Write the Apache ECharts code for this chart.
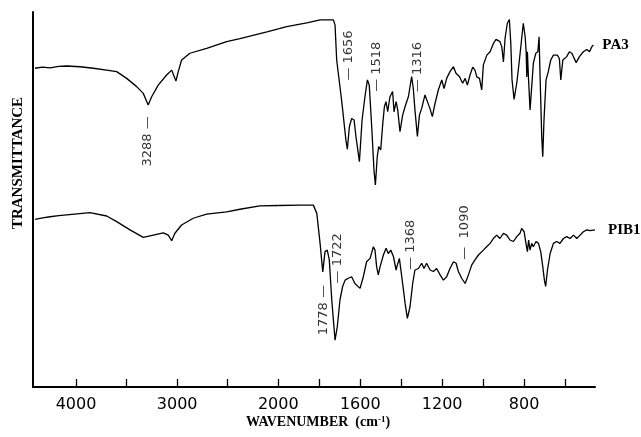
<!DOCTYPE html>
<html><head><meta charset="utf-8">
<script src="https://cdn.jsdelivr.net/npm/echarts@6/dist/echarts.min.js"></script>
<style>html,body{margin:0;padding:0;background:#fff}#c{width:641px;height:437px}</style>
</head><body><div id="c"></div>
<script>
// [wavenumber (cm-1), transmittance (arbitrary %)]
const pa3Points = [
  [4405,85.0],[4330,85.3],[4257,85.1],[4170,85.5],[4092,85.6],[3960,85.4],[3829,85.0],[3697,84.5],[3598,84.1],[3499,82.3],[3400,80.1],[3335,78.3],[3286,75.2],[3252,77.4],[3187,80.5],[3104,83.2],[3054,84.5],[3039,84.1],[3012,81.6],[2989,84.1],[2956,87.2],[2874,89.0],[2708,90.3],[2511,92.1],[2379,92.9],[2112,94.7],[2000,95.5],
  [1959,96.1],[1861,97.1],[1796,97.9],[1731,97.9],[1723,96.5],[1715,87.2],[1691,76.5],[1670,65.9],[1663,63.4],[1653,69.4],[1642,71.6],[1630,71.2],[1621,66.8],[1604,60.1],[1591,71.2],[1577,77.4],[1565,81.9],[1556,80.5],[1544,69.4],[1533,57.9],[1526,53.9],[1517,61.4],[1510,64.1],[1500,63.2],[1490,70.3],[1482,74.8],[1474,76.1],[1466,73.4],[1455,77.4],[1442,78.8],[1435,73.4],[1425,76.1],[1417,73.9],[1406,68.1],[1393,72.5],[1381,74.8],[1365,77.4],[1349,82.8],[1341,79.6],[1333,73.9],[1321,66.8],[1311,72.5],[1300,74.3],[1284,77.9],[1272,76.1],[1260,74.3],[1248,72.1],[1235,75.6],[1219,79.2],[1202,81.9],[1191,79.6],[1178,82.3],[1162,84.1],[1145,85.4],[1132,83.6],[1116,82.8],[1100,81.0],[1088,82.3],[1077,80.5],[1064,83.2],[1051,85.3],[1040,84.5],[1031,82.7],[1018,82.3],[1007,79.2],[999,85.9],[982,88.5],[966,89.4],[950,91.6],[937,92.7],[918,92.1],[909,90.7],[901,86.7],[893,93.0],[882,97.0],[872,98.0],[865,91.6],[859,81.9],[849,76.7],[836,81.0],[823,87.2],[811,93.4],[804,97.0],[795,93.4],[790,89.4],[787,82.7],[784,89.4],[779,82.7],[771,73.9],[763,73.9],[755,86.3],[743,89.0],[733,89.4],[727,93.4],[722,82.7],[714,66.7],[709,61.4],[703,71.2],[693,81.9],[682,84.1],[670,87.2],[657,88.5],[638,88.5],[628,87.6],[621,81.9],[611,87.2],[592,88.1],[579,89.4],[567,89.0],[546,86.5],[530,88.1],[511,89.4],[494,90.0],[481,89.4],[470,90.7],[462,91.2]
];
const pib1Points = [
  [4405,44.7],[4330,45.1],[4257,45.4],[4170,45.7],[4092,45.9],[3862,46.5],[3697,45.6],[3598,44.1],[3466,41.9],[3335,39.9],[3236,40.5],[3137,41.1],[3088,40.5],[3054,39.0],[3022,41.0],[2956,43.2],[2841,45.0],[2709,46.1],[2511,46.7],[2379,47.4],[2182,48.3],[2000,48.4],
  [1992,48.5],[1894,48.5],[1829,48.5],[1812,46.3],[1796,38.3],[1783,30.7],[1772,36.1],[1761,36.5],[1751,33.9],[1739,23.2],[1723,12.5],[1712,16.1],[1699,23.2],[1686,26.8],[1674,28.5],[1658,29.0],[1642,29.4],[1626,27.6],[1601,26.3],[1585,29.4],[1569,33.4],[1552,34.3],[1536,37.4],[1528,36.5],[1520,32.1],[1512,29.9],[1503,32.1],[1487,35.2],[1474,37.0],[1463,35.6],[1451,36.5],[1438,34.8],[1425,31.2],[1419,32.5],[1409,34.3],[1402,33.9],[1393,27.6],[1381,22.3],[1370,18.3],[1357,21.4],[1344,27.6],[1333,31.2],[1316,31.6],[1300,33.0],[1289,31.6],[1276,33.0],[1259,31.2],[1243,30.8],[1227,31.6],[1210,29.9],[1194,28.5],[1178,29.4],[1162,31.6],[1145,33.4],[1132,33.0],[1121,30.8],[1105,29.0],[1088,27.6],[1072,29.9],[1056,32.5],[1040,33.9],[1023,35.2],[999,36.5],[983,37.4],[966,38.3],[950,39.6],[934,40.5],[918,39.6],[901,41.0],[885,40.5],[869,39.2],[852,38.8],[836,40.1],[820,41.0],[812,42.3],[800,41.4],[791,38.3],[784,36.1],[778,39.2],[771,36.5],[763,38.3],[755,37.4],[742,38.8],[730,38.3],[719,36.1],[709,32.1],[701,28.5],[695,26.8],[686,31.2],[673,35.6],[657,38.3],[641,38.8],[625,38.3],[608,39.6],[592,40.1],[576,39.6],[559,40.5],[543,39.6],[527,40.5],[511,41.4],[494,41.9],[478,41.7],[454,41.9]
];

// Peak annotations
const annWave  = [3288, 1656, 1520, 1318, 1777, 1712, 1356, 1088];
const annLevel = [65.5, 88.4, 85.4, 85.3, 20.5, 34.3, 37.9, 41.2];
const annText  = ['3288 \u2014', '\u2014 1656', '\u2014 1518', '\u2014 1316', '1778 \u2014', '\u2014 1722', '\u2014 1368', '\u2014  1090'];

// Axis ticks (scale changes at 2000 cm-1)
const breakWave = 2000;
const leftRange = [2000, 4425];
const rightRange = [454, 2000];
const leftTicks = [4000, 3500, 3000, 2500, 2000];
const leftLabels = [4000, 3000, 2000];
const rightTicks = [1800, 1600, 1400, 1200, 1000, 800, 600];
const rightLabels = [1600, 1200, 800];

const ann = annWave.map((w, i) => [w, annLevel[i], annText[i]]);

const black = '#000';
const lineStyle = { color: black, width: 1.3 };
function xAx(grid, range, ticks, labels) {
  return {
    type: 'value', gridIndex: grid, min: range[0], max: range[1], inverse: true,
    axisLine: { show: true, onZero: false, lineStyle: { color: black, width: 2 } },
    axisTick: { show: true, inside: true, length: 8, customValues: ticks, lineStyle: { color: black, width: 1.3 } },
    axisLabel: { show: true, customValues: labels, formatter: v => String(v), margin: 10, color: black, fontFamily: 'DejaVu Sans', fontSize: 16 },
    splitLine: { show: false }
  };
}
const endLbl = (txt, d) => ({ show: true, formatter: txt, align: 'left', distance: -d, color: black, fontFamily: 'Liberation Serif', fontWeight: 'bold', fontSize: 15 });
const annLabel = {
  show: true, formatter: p => p.value[2], rotate: 90, position: 'inside', align: 'center', verticalAlign: 'middle',
  color: black, fontFamily: 'DejaVu Sans', fontSize: 13
};

const chart = echarts.init(document.getElementById('c'), null, { renderer: 'canvas' });
chart.setOption({
  animation: false,
  backgroundColor: '#fff',
  grid: [
    { left: 33, top: 12, width: 245.3, height: 375 },
    { left: 278.3, top: 12, width: 316.7, height: 375 }
  ],
  xAxis: [
    xAx(0, leftRange, leftTicks, leftLabels),
    xAx(1, rightRange, rightTicks, rightLabels)
  ],
  yAxis: [
    { type: 'value', gridIndex: 0, min: 0, max: 100,
      axisLine: { show: true, onZero: false, lineStyle: { color: black, width: 2 } },
      axisTick: { show: false }, axisLabel: { show: false }, splitLine: { show: false } },
    { type: 'value', gridIndex: 1, min: 0, max: 100, show: false, splitLine: { show: false } }
  ],
  graphic: [
    { type: 'text', x: 18, y: 163, rotation: Math.PI / 2,
      style: { text: 'TRANSMITTANCE', fontFamily: 'Liberation Serif', fontWeight: 'bold', fontSize: 15, fill: black, align: 'center', verticalAlign: 'middle' } },
    { type: 'text', x: 318, y: 422,
      style: { text: '{a|WAVENUMBER  (cm}{s|-1}{a|)}', align: 'center', verticalAlign: 'middle', fill: black,
        rich: { a: { fontFamily: 'Liberation Serif', fontWeight: 'bold', fontSize: 14, fill: black },
                s: { fontFamily: 'Liberation Serif', fontWeight: 'bold', fontSize: 9, fill: black, verticalAlign: 'top' } } } }
  ],
  series: [
    { type: 'line', name: 'PA3', xAxisIndex: 0, yAxisIndex: 0, showSymbol: false, lineStyle, data: pa3Points.filter(d => d[0] >= breakWave) },
    { type: 'line', name: 'PA3', xAxisIndex: 1, yAxisIndex: 1, showSymbol: false, lineStyle, data: pa3Points.filter(d => d[0] <= breakWave), endLabel: endLbl('PA3', 9) },
    { type: 'line', name: 'PIB1', xAxisIndex: 0, yAxisIndex: 0, showSymbol: false, lineStyle, data: pib1Points.filter(d => d[0] >= breakWave) },
    { type: 'line', name: 'PIB1', xAxisIndex: 1, yAxisIndex: 1, showSymbol: false, lineStyle, data: pib1Points.filter(d => d[0] <= breakWave), endLabel: endLbl('PIB1', 13) },
    { type: 'scatter', xAxisIndex: 0, yAxisIndex: 0, symbolSize: 1, itemStyle: { color: 'rgba(0,0,0,0)' }, label: annLabel, data: ann.filter(d => d[0] > breakWave) },
    { type: 'scatter', xAxisIndex: 1, yAxisIndex: 1, symbolSize: 1, itemStyle: { color: 'rgba(0,0,0,0)' }, label: annLabel, data: ann.filter(d => d[0] <= breakWave) }
  ]
});
</script></body></html>
